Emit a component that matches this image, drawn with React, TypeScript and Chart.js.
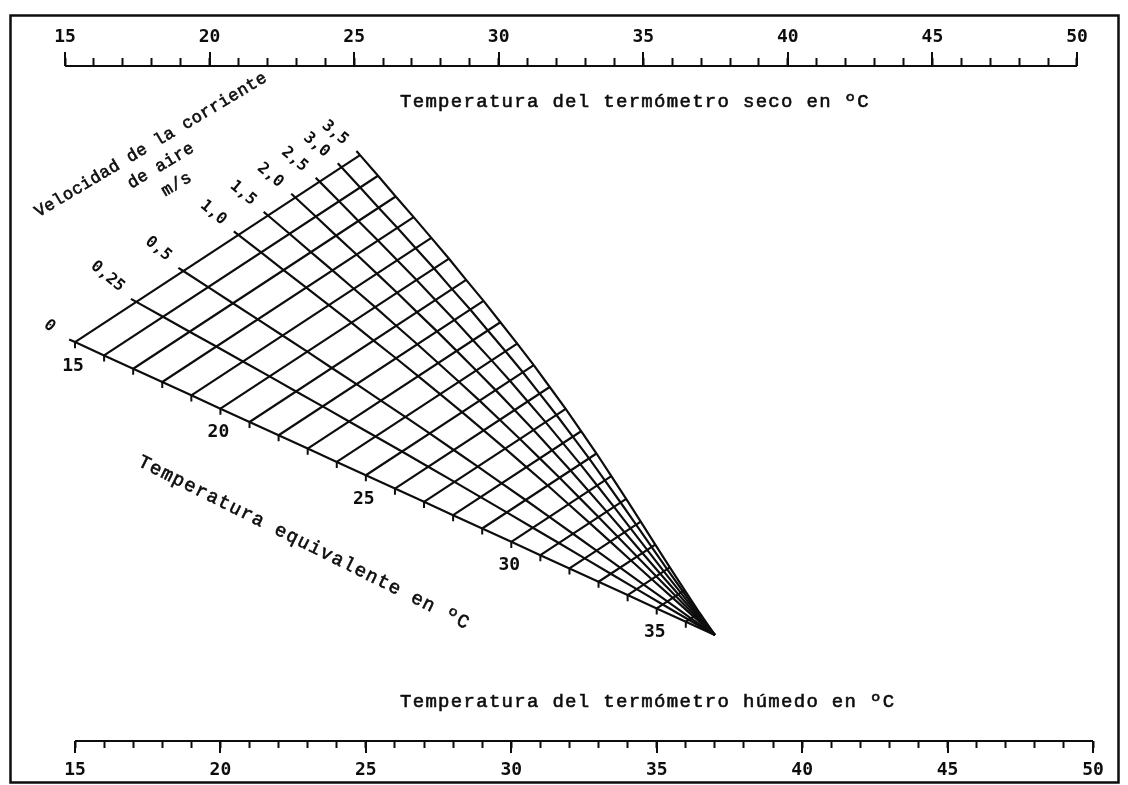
import React, { useEffect, useRef } from 'react';
import { Chart, registerables } from 'chart.js';

Chart.register(...registerables);

// ---- Data ----
const DRY_TICKS = [15, 16, 17, 18, 19, 20, 21, 22, 23, 24, 25, 26, 27, 28, 29, 30, 31, 32, 33, 34, 35, 36, 37, 38, 39, 40, 41, 42, 43, 44, 45, 46, 47, 48, 49, 50];
const WET_TICKS = [15, 16, 17, 18, 19, 20, 21, 22, 23, 24, 25, 26, 27, 28, 29, 30, 31, 32, 33, 34, 35, 36, 37, 38, 39, 40, 41, 42, 43, 44, 45, 46, 47, 48, 49, 50];
const LABEL_STEP = 5;

// Equivalent temperature lines (°C) and their relative span across the fan
const EQUIV_TEMPS = [15, 16, 17, 18, 19, 20, 21, 22, 23, 24, 25, 26, 27, 28, 29, 30, 31, 32, 33, 34, 35, 36];
const EQUIV_SPAN = [1.0, 0.961, 0.921, 0.882, 0.842, 0.802, 0.76, 0.719, 0.676, 0.633, 0.589, 0.543, 0.497, 0.449, 0.401, 0.351, 0.301, 0.25, 0.199, 0.148, 0.098, 0.048];
const EQUIV_LABELS = [15, 20, 25, 30, 35];
const CONVERGE_TEMP = 37;

// Air velocity lines (m/s) and their position along each equivalent-temperature line
const VELOCITY_LABELS = ['0', '0,25', '0,5', '1,0', '1,5', '2,0', '2,5', '3,0', '3,5'];
const VELOCITY_POS = [0, 0.215, 0.38, 0.573, 0.677, 0.773, 0.858, 0.935, 1.0];

// Fan geometry anchors (wet-bulb °C on x, hidden vertical scale 0-100 on y)
const FAN_Y_AT_15 = 59.1;
const FAN_Y_AT_CONVERGE = 15.7;
const EDGE_DX = 9.8;
const EDGE_DY = 27.7;

const INK = '#0d0d0d';
const MONO_DIGITS = '"DejaVu Sans Mono", "Liberation Mono", monospace';
const MONO_TEXT = '"Liberation Mono", "DejaVu Sans Mono", monospace';

function baseAt(t: number) {
  const f = (t - 15) / (CONVERGE_TEMP - 15);
  return { x: t, y: FAN_Y_AT_15 + f * (FAN_Y_AT_CONVERGE - FAN_Y_AT_15) };
}

function pointAt(vi: number, ti: number) {
  const t = EQUIV_TEMPS[ti];
  const b = baseAt(t);
  const s = VELOCITY_POS[vi] * EQUIV_SPAN[ti];
  return { x: b.x + s * EDGE_DX, y: b.y + s * EDGE_DY };
}

function buildDatasets() {
  const ds: any[] = [];
  const common = {
    xAxisID: 'x2',
    yAxisID: 'y',
    showLine: true,
    pointRadius: 0,
    borderColor: INK,
    borderWidth: 2.2,
    fill: false,
  };
  // velocity lines
  VELOCITY_POS.forEach((_, vi) => {
    const p0 = pointAt(vi, 0);
    const p1 = pointAt(vi, 1);
    const ext = { x: p0.x + 0.2 * (p0.x - p1.x), y: p0.y + 0.2 * (p0.y - p1.y) };
    const pts = [ext, ...EQUIV_TEMPS.map((_, ti) => pointAt(vi, ti)), baseAt(CONVERGE_TEMP)];
    ds.push({ ...common, data: pts });
  });
  // equivalent temperature lines
  EQUIV_TEMPS.forEach((_, ti) => {
    ds.push({ ...common, data: [pointAt(0, ti), pointAt(VELOCITY_POS.length - 1, ti)] });
  });
  // ticks below the 0 m/s line
  EQUIV_TEMPS.forEach((t) => {
    const b = baseAt(t);
    ds.push({ ...common, borderWidth: 2, data: [b, { x: b.x, y: b.y - 0.9 }] });
  });
  return ds;
}

function boldText(ctx: CanvasRenderingContext2D, text: string, x: number, y: number) {
  ctx.fillText(text, x, y);
  ctx.strokeText(text, x, y);
}

const decorPlugin = {
  id: 'decor',
  afterDraw(chart: any) {
    const ctx = chart.ctx as CanvasRenderingContext2D;
    const top = chart.scales.xTop;
    const bot = chart.scales.x2;
    const ys = chart.scales.y;
    const area = chart.chartArea;
    ctx.save();
    ctx.strokeStyle = INK;
    ctx.fillStyle = INK;
    ctx.lineCap = 'butt';

    // frame
    ctx.lineWidth = 2.5;
    ctx.strokeRect(10.5, 15.5, 1108, 767);

    // axis baselines
    ctx.lineWidth = 2;
    ctx.beginPath();
    ctx.moveTo(top.getPixelForValue(DRY_TICKS[0]), area.top);
    ctx.lineTo(top.getPixelForValue(DRY_TICKS[DRY_TICKS.length - 1]), area.top);
    ctx.moveTo(bot.getPixelForValue(WET_TICKS[0]), area.bottom);
    ctx.lineTo(bot.getPixelForValue(WET_TICKS[WET_TICKS.length - 1]), area.bottom);
    ctx.stroke();

    // major ticks
    ctx.beginPath();
    DRY_TICKS.filter((v) => v % LABEL_STEP === 0).forEach((v) => {
      const x = Math.round(top.getPixelForValue(v));
      ctx.moveTo(x, area.top);
      ctx.lineTo(x, area.top - 14);
    });
    WET_TICKS.filter((v) => v % LABEL_STEP === 0).forEach((v) => {
      const x = Math.round(bot.getPixelForValue(v));
      ctx.moveTo(x, area.bottom);
      ctx.lineTo(x, area.bottom + 12);
    });
    ctx.stroke();

    // axis titles
    ctx.lineWidth = 0.6;
    ctx.font = `19px ${MONO_TEXT}`;
    (ctx as any).letterSpacing = '1.3px';
    ctx.textAlign = 'left';
    ctx.textBaseline = 'middle';
    boldText(ctx, 'Temperatura del termómetro seco en ºC', 400, 102);
    boldText(ctx, 'Temperatura del termómetro húmedo en ºC', 400, 702);

    // equivalent temperature title
    ctx.save();
    ctx.translate(304, 543);
    ctx.rotate((26.5 * Math.PI) / 180);
    ctx.textAlign = 'center';
    boldText(ctx, 'Temperatura equivalente en ºC', 0, 0);
    ctx.restore();

    // velocity title
    ctx.save();
    ctx.font = `17px ${MONO_TEXT}`;
    (ctx as any).letterSpacing = '0.5px';
    ctx.translate(151, 145);
    ctx.rotate((-30.8 * Math.PI) / 180);
    ctx.textAlign = 'center';
    boldText(ctx, 'Velocidad de la corriente', 0, 0);
    boldText(ctx, 'de aire', -2, 23);
    boldText(ctx, 'm/s', 2, 47);
    ctx.restore();

    // equivalent temperature labels
    (ctx as any).letterSpacing = '0px';
    ctx.font = `bold 18px ${MONO_DIGITS}`;
    ctx.textAlign = 'center';
    EQUIV_LABELS.forEach((t) => {
      const b = baseAt(t);
      const px = bot.getPixelForValue(b.x);
      const py = ys.getPixelForValue(b.y);
      ctx.fillText(String(t), px - 2, py + 24);
    });

    // velocity labels
    ctx.font = `bold 16px ${MONO_DIGITS}`;
    VELOCITY_LABELS.forEach((lab, vi) => {
      const p = pointAt(vi, 0);
      const px = bot.getPixelForValue(p.x);
      const py = ys.getPixelForValue(p.y);
      ctx.save();
      ctx.translate(px - (vi === 0 ? 22 : 14), py - 13);
      ctx.rotate((40 * Math.PI) / 180);
      ctx.textAlign = 'right';
      ctx.fillText(lab, 0, 0);
      ctx.restore();
    });

    ctx.restore();
  },
};

function tickCallback(value: any) {
  return Number(value) % LABEL_STEP === 0 ? String(value) : '';
}

export default function App() {
  const canvasRef = useRef<HTMLCanvasElement | null>(null);

  useEffect(() => {
    if (!canvasRef.current) return;
    const chart = new Chart(canvasRef.current, {
      type: 'scatter',
      data: { datasets: buildDatasets() },
      options: {
        animation: false,
        responsive: false,
        events: [],
        layout: { padding: { left: 65, right: 35, top: 0, bottom: 0 } },
        plugins: { legend: { display: false }, tooltip: { enabled: false } },
        scales: {
          xTop: {
            type: 'linear',
            position: 'top',
            min: 15,
            max: 50.554,
            afterBuildTicks: (scale: any) => {
              scale.ticks = DRY_TICKS.map((v) => ({ value: v }));
            },
            afterFit: (scale: any) => {
              scale.height = 66;
            },
            border: { display: false },
            grid: { drawOnChartArea: false, drawTicks: true, tickLength: 8, tickWidth: 2, tickColor: INK },
            ticks: {
              callback: tickCallback,
              autoSkip: false,
              maxRotation: 0,
              padding: 10,
              color: INK,
              font: { family: MONO_DIGITS, size: 18, weight: 'bold' },
            },
          },
          x2: {
            type: 'linear',
            position: 'bottom',
            min: 14.656,
            max: 50,
            afterBuildTicks: (scale: any) => {
              scale.ticks = WET_TICKS.map((v) => ({ value: v }));
            },
            afterFit: (scale: any) => {
              scale.height = 44;
            },
            border: { display: false },
            grid: { drawOnChartArea: false, drawTicks: true, tickLength: 7, tickWidth: 2, tickColor: INK },
            ticks: {
              callback: tickCallback,
              autoSkip: false,
              maxRotation: 0,
              padding: 12,
              color: INK,
              font: { family: MONO_DIGITS, size: 18, weight: 'bold' },
            },
          },
          y: { type: 'linear', display: false, min: 0, max: 100 },
        },
      } as any,
      plugins: [decorPlugin],
    });
    return () => chart.destroy();
  }, []);

  return (
    <div style={{ position: 'absolute', left: 0, top: 0, width: 1128, height: 785, background: '#fff' }}>
      <canvas ref={canvasRef} width={1128} height={785} style={{ display: 'block' }} />
    </div>
  );
}
